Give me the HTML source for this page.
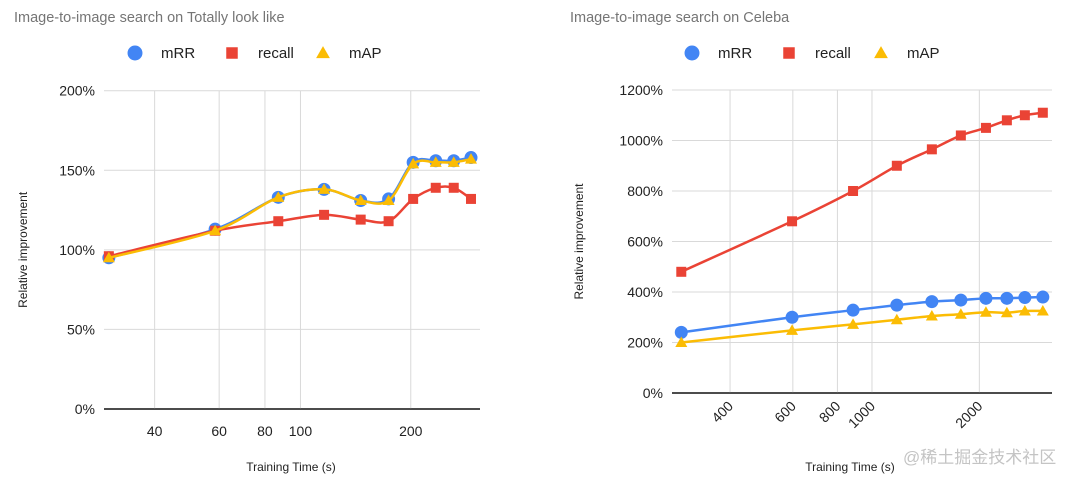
<!DOCTYPE html>
<html><head><meta charset="utf-8"><style>
body{margin:0;background:#fff;width:1080px;height:483px;overflow:hidden;font-family:"Liberation Sans",Arial,sans-serif}
svg{display:block}
</style></head><body>
<svg id="s" width="1080" height="483">
<text x="14" y="22" font-size="14.5" fill="#757575">Image-to-image search on Totally look like</text>
<text x="570" y="22" font-size="14.5" fill="#757575">Image-to-image search on Celeba</text>
</svg>
<script>
const leftX=[30,58.5,87,116,146,174,203,234,262,292];
const leftMRR=[95,113,133,138,131,132,155,156,156,158];
const leftRecall=[96,112,118,122,119,118,132,139,139,132];
const leftMAP=[95,112,133,138,131,131,154,155,155,157];
const leftXTicks=[40,60,80,100,200];
const leftYTicks=[0,50,100,150,200];
const rightX=[292,597,885,1174,1472,1775,2087,2389,2683,3013];
const rightMRR=[240,300,328,348,362,368,375,375,378,380];
const rightRecall=[480,680,800,900,965,1020,1050,1080,1100,1110];
const rightMAP=[200,248,272,290,305,312,320,318,325,325];
const rightXTicks=[400,600,800,1000,2000];
const rightYTicks=[0,200,400,600,800,1000,1200];
const NS="http://www.w3.org/2000/svg",svg=document.getElementById('s');
function mk(t,a,p){const e=document.createElementNS(NS,t);for(const k in a)e.setAttribute(k,a[k]);(p||svg).appendChild(e);return e;}
function smooth(pts){let d='M'+pts[0][0]+','+pts[0][1];for(let i=0;i<pts.length-1;i++){const p0=pts[i-1]||pts[i],p1=pts[i],p2=pts[i+1],p3=pts[i+2]||p2;const c1=[p1[0]+(p2[0]-p0[0])/6,p1[1]+(p2[1]-p0[1])/6],c2=[p2[0]-(p3[0]-p1[0])/6,p2[1]-(p3[1]-p1[1])/6];d+=' C'+c1+' '+c2+' '+p2;}return d;}
function chart(o){
 const g=mk('g',{});
 const xs=v=>o.x0+(Math.log(v)-Math.log(o.xd[0]))/(Math.log(o.xd[1])-Math.log(o.xd[0]))*(o.x1-o.x0);
 const ys=v=>o.y0-(v/o.ymax)*(o.y0-o.y1);
 o.yt.forEach(t=>{const l=mk('line',{x1:o.x0,x2:o.x1,y1:ys(t),y2:ys(t),stroke:t?'#d9d9d9':'#333','stroke-width':t?1:1.5},g);
  const tx=mk('text',{x:o.x0-9,y:ys(t)+5,'font-size':14,'text-anchor':'end',fill:'#222'},g);tx.textContent=t+'%';});
 o.xt.forEach(t=>{const x=xs(t);const l=mk('line',{x1:x,x2:x,y1:o.y1,y2:o.y0,stroke:'#d9d9d9'},g);
  let tx;if(o.rot){tx=mk('text',{x:x+4,y:o.y0+14,'font-size':14,'text-anchor':'end',fill:'#222',transform:'rotate(-45 '+(x+4)+' '+(o.y0+14)+')'},g);}else tx=mk('text',{x:x,y:o.y0+27,'font-size':14,'text-anchor':'middle',fill:'#222'},g);
  tx.textContent=t;});
 mk('line',{x1:o.x0,x2:o.x1,y1:o.y0,y2:o.y0,stroke:'#333','stroke-width':1.5},g);
 let t=mk('text',{x:o.xtX,y:o.xtY,'font-size':12,'text-anchor':'middle',fill:'#222'},g);t.textContent='Training Time (s)';
 const yc=(o.y0+o.y1)/2;t=mk('text',{x:o.ytX,y:yc,'font-size':12,'text-anchor':'middle',fill:'#222',transform:'rotate(-90 '+o.ytX+' '+yc+')'},g);t.textContent='Relative improvement';
 const L=o.leg;const items=[['mRR','#4285f4','c'],['recall','#ea4335','s'],['mAP','#fbbc04','t']];
 items.forEach((it,i)=>{const lx=L[i];const e=mk('g',{},g);marker(e,it[2],lx,53,it[1],1.15);
  const tx=mk('text',{x:lx+26,y:58,'font-size':15,fill:'#222'},e);tx.textContent=it[0];});
 const series=[['mrr',o.mrr,'#4285f4','c'],['recall',o.rec,'#ea4335','s'],['map',o.map,'#fbbc04','t']];
 series.forEach(s=>{const pts=o.xv.map((v,i)=>[xs(v),ys(s[1][i])]);
  const p=mk('path',{d:o.smooth?smooth(pts):'M'+pts.join(' L'),fill:'none',stroke:s[2],'stroke-width':2.5},g);
  pts.forEach(q=>{const m=marker(g,s[3],q[0],q[1],s[2],1);});});
}
function marker(p,type,x,y,c,sc){if(type==='c')return mk('circle',{cx:x,cy:y,r:6.5*sc,fill:c},p);if(type==='s')return mk('rect',{x:x-5*sc,y:y-5*sc,width:10*sc,height:10*sc,fill:c},p);const r=6*sc;return mk('path',{d:`M${x},${y-r} L${x+r},${y+r*0.75} L${x-r},${y+r*0.75}Z`,fill:c},p);}
chart({name:'left-chart',x0:104,x1:480,y0:409,y1:90.7,ymax:200,xd:[29.1,309],xt:leftXTicks,yt:leftYTicks,xv:leftX,mrr:leftMRR,rec:leftRecall,map:leftMAP,smooth:true,rot:false,xtX:291,xtY:471,ytX:27,leg:[135,232,323]});
chart({name:'right-chart',x0:672,x1:1052,y0:393,y1:90,ymax:1200,xd:[275,3197],xt:rightXTicks,yt:rightYTicks,xv:rightX,mrr:rightMRR,rec:rightRecall,map:rightMAP,smooth:true,rot:true,xtX:850,xtY:471,ytX:583,leg:[692,789,881]});
const wm=mk('text',{x:903,y:463,'font-size':17,fill:'#c4c4c4','font-family':"'Liberation Sans','Noto Sans CJK SC',sans-serif"});


wm.textContent='@稀土掘金技术社区';
</script>
</body></html>
